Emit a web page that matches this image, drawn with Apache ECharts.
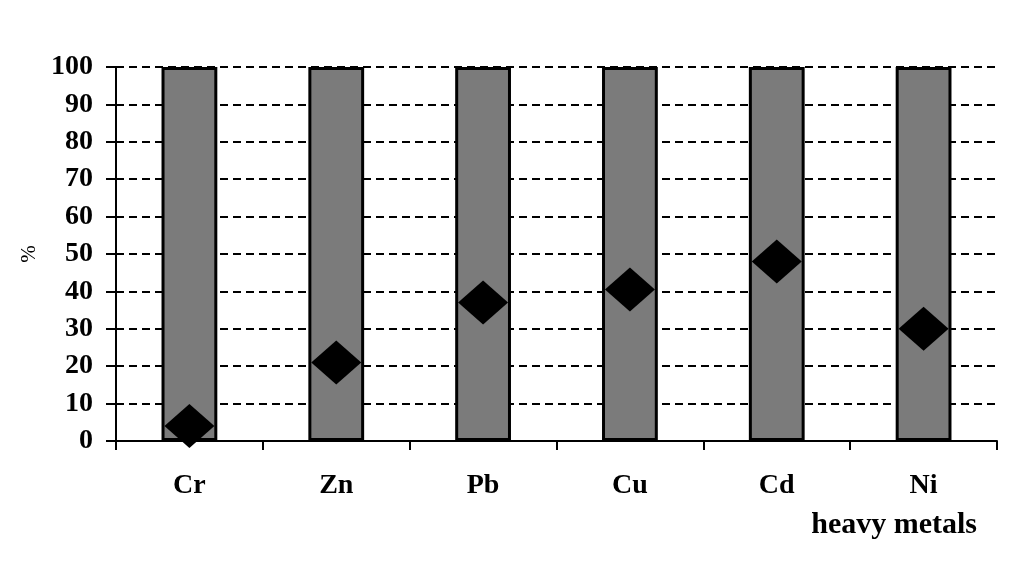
<!DOCTYPE html>
<html>
<head>
<meta charset="utf-8">
<script src="https://cdn.jsdelivr.net/npm/echarts@6/dist/echarts.min.js"></script>
<style>
html,body{margin:0;padding:0;background:#fff;}
#chart{width:1023px;height:561px;}
</style>
</head>
<body>
<div id="chart"></div>
<script>
// heavy metals, share in %
var metals = ['Cr', 'Zn', 'Pb', 'Cu', 'Cd', 'Ni'];
var totalVals = [100, 100, 100, 100, 100, 100];
var markVals = [4, 21, 37, 40.5, 48, 30];

var serif = '"Liberation Serif", "DejaVu Serif", serif';

var myChart = echarts.init(document.getElementById('chart'));
var option = {
	backgroundColor: '#fff',
	animation: false,
	title: {
		text: 'heavy metals',
		right: 41,
		top: 505,
		textStyle: {fontFamily: serif, fontSize: 30, fontWeight: 'bold', color: '#000'}
	},
	grid: {left: 116, right: 26, top: 67, bottom: 120},
	xAxis: {
		type: 'category',
		data: metals,
		boundaryGap: true,
		axisLine: {lineStyle: {color: '#000', width: 2}},
		axisTick: {show: true, length: 9, lineStyle: {color: '#000', width: 2}},
		axisLabel: {margin: 31, fontFamily: serif, fontSize: 28, fontWeight: 'bold', color: '#000'},
		splitLine: {show: false}
	},
	yAxis: [{
		type: 'value',
		min: 0,
		max: 100,
		interval: 10,
		name: '%',
		nameLocation: 'middle',
		nameGap: 74,
		nameRotate: 90,
		nameTextStyle: {fontFamily: serif, fontSize: 21, color: '#000'},
		axisLine: {show: true, lineStyle: {color: '#000', width: 2}},
		axisTick: {show: true, length: 10, lineStyle: {color: '#000', width: 2}},
		axisLabel: {margin: 23, fontFamily: serif, fontSize: 28, fontWeight: 'bold', color: '#000'},
		splitLine: {show: true, lineStyle: {color: '#000', width: 2, type: [8, 5]}}
	}, {
		// inner half of the crossing ticks
		type: 'value',
		min: 0,
		max: 100,
		interval: 10,
		position: 'left',
		axisLine: {show: false},
		axisTick: {show: true, inside: true, length: 7, lineStyle: {color: '#000', width: 2}},
		axisLabel: {show: false},
		splitLine: {show: false}
	}],
	series: [{
		type: 'bar',
		data: totalVals,
		barWidth: '38%',
		itemStyle: {color: '#7b7b7b', borderColor: '#000', borderWidth: 3}
	}, {
		type: 'scatter',
		data: markVals,
		symbol: 'diamond',
		symbolSize: [50, 44],
		itemStyle: {color: '#000', opacity: 1},
		z: 5
	}]
};
myChart.setOption(option);
</script>
</body>
</html>
